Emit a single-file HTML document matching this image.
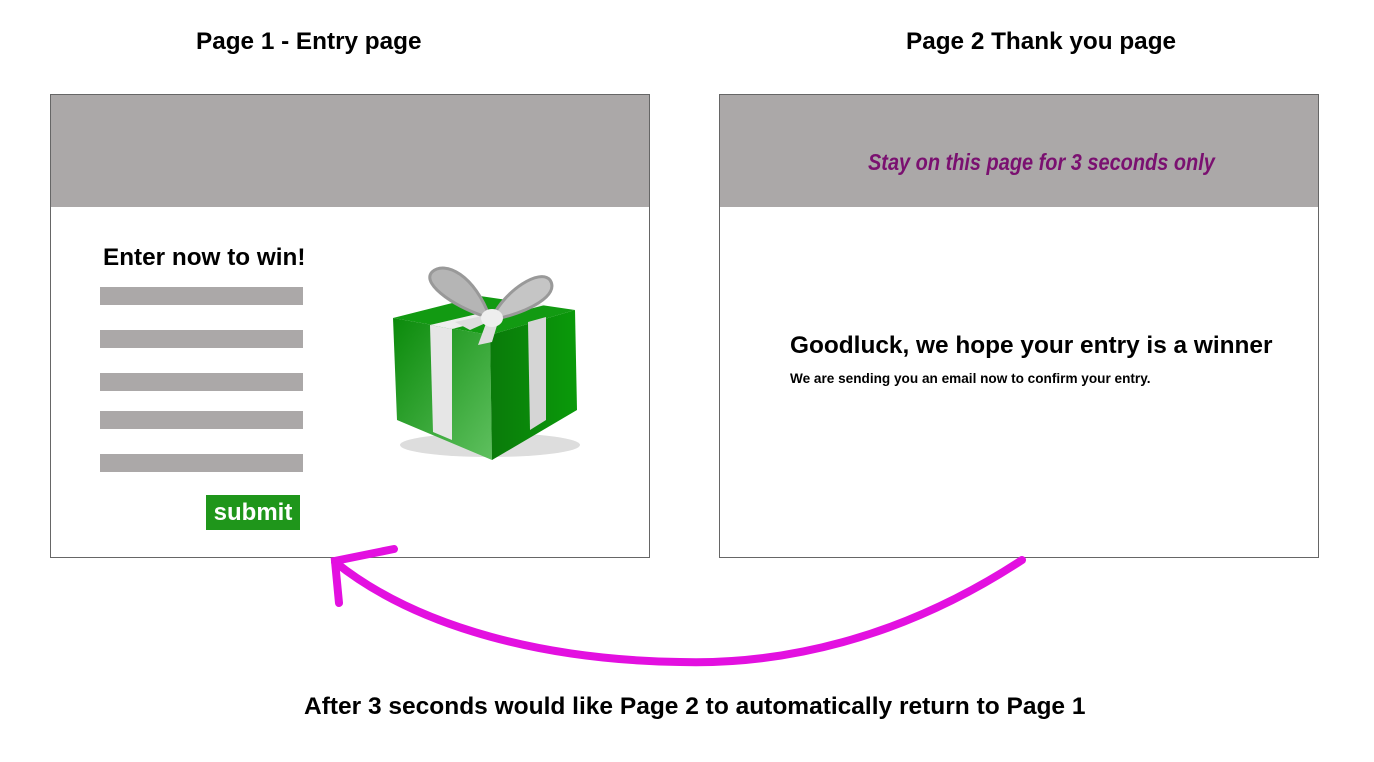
<!DOCTYPE html>
<html><head><style>
body{margin:0;width:1374px;height:762px;background:#fff;position:relative;font-family:"Liberation Sans",Arial,sans-serif;overflow:hidden}
.t{position:absolute;font-weight:bold;color:#000;white-space:nowrap}
.box{position:absolute;border:1px solid #666;background:#fff;box-sizing:border-box}
.hdr{position:absolute;left:0;top:0;right:0;height:112px;background:#aba8a8}
.bar{position:absolute;left:49px;width:203px;height:18px;background:#aba8a8}
</style></head><body>
<div class="t" style="left:196px;top:28px;font-size:24.3px">Page 1 - Entry page</div>
<div class="t" style="left:906px;top:28px;font-size:24.3px">Page 2 Thank you page</div>

<div class="box" style="left:50px;top:94px;width:600px;height:464px">
 <div class="hdr"></div>
 <div class="t" style="left:52px;top:149px;font-size:24.3px">Enter now to win!</div>
 <div class="bar" style="top:192px"></div>
 <div class="bar" style="top:235px"></div>
 <div class="bar" style="top:278px"></div>
 <div class="bar" style="top:316px"></div>
 <div class="bar" style="top:359px"></div>
 <div class="t" style="left:155px;top:400px;width:94px;height:35px;background:#1f961b;color:#fff;font-size:24px;line-height:35px;text-align:center">submit</div>
</div>

<div class="box" style="left:719px;top:94px;width:600px;height:464px">
 <div class="hdr"></div>
 <div class="t" style="left:148px;top:54px;font-size:23px;color:#7a1070;font-style:italic;transform:scaleX(0.867);transform-origin:left">Stay on this page for 3 seconds only</div>
 <div class="t" style="left:70px;top:237px;font-size:24.4px">Goodluck, we hope your entry is a winner</div>
 <div class="t" style="left:70px;top:276px;font-size:13.6px">We are sending you an email now to confirm your entry.</div>
</div>

<svg style="position:absolute;left:0;top:0" width="1374" height="762">
 <defs>
  <linearGradient id="g1" x1="0" x2="1" y1="0" y2="1"><stop offset="0" stop-color="#0a8a0a"/><stop offset="1" stop-color="#5fc05f"/></linearGradient>
  <linearGradient id="g2" x1="0" x2="1"><stop offset="0" stop-color="#0a7a0a"/><stop offset="1" stop-color="#0a9a0a"/></linearGradient>
 </defs>
 <ellipse cx="490" cy="445" rx="90" ry="12" fill="#ddd"/>
 <polygon points="393,318 480,296 575,310 490,335" fill="#129a12"/>
 <polygon points="393,318 490,335 492,460 397,420" fill="url(#g1)"/>
 <polygon points="490,335 575,310 577,410 492,460" fill="url(#g2)"/>
 <polygon points="430,325 452,329 452,440 433,432" fill="#e6e6e6"/>
 <polygon points="528,322 546,317 546,420 530,430" fill="#d5d5d5"/>
 <polygon points="430,325 452,329 545,305 528,302" fill="#eee"/>
 <path d="M490,318 C460,310 420,285 432,272 C445,260 475,275 490,318 Z" fill="#b5b5b5" stroke="#999" stroke-width="3"/>
 <path d="M492,318 C505,290 540,268 550,280 C560,295 530,312 492,320 Z" fill="#c5c5c5" stroke="#999" stroke-width="3"/>
 <path d="M486,315 L455,322 L470,330 L488,322 Z" fill="#ddd"/>
 <path d="M488,318 L478,345 L492,342 L498,322 Z" fill="#ddd"/>
 <ellipse cx="492" cy="318" rx="11" ry="9" fill="#eee"/>
 <g fill="none" stroke="#e310e0" stroke-width="8" stroke-linecap="round">
  <path d="M1022,560 C900,640 780,665 680,662 C550,660 420,630 335,562"/>
  <path d="M394,549 L335,561 L339,603"/>
 </g>
</svg>

<div class="t" style="left:304px;top:693px;font-size:24.5px">After 3 seconds would like Page 2 to automatically return to Page 1</div>
</body></html>
